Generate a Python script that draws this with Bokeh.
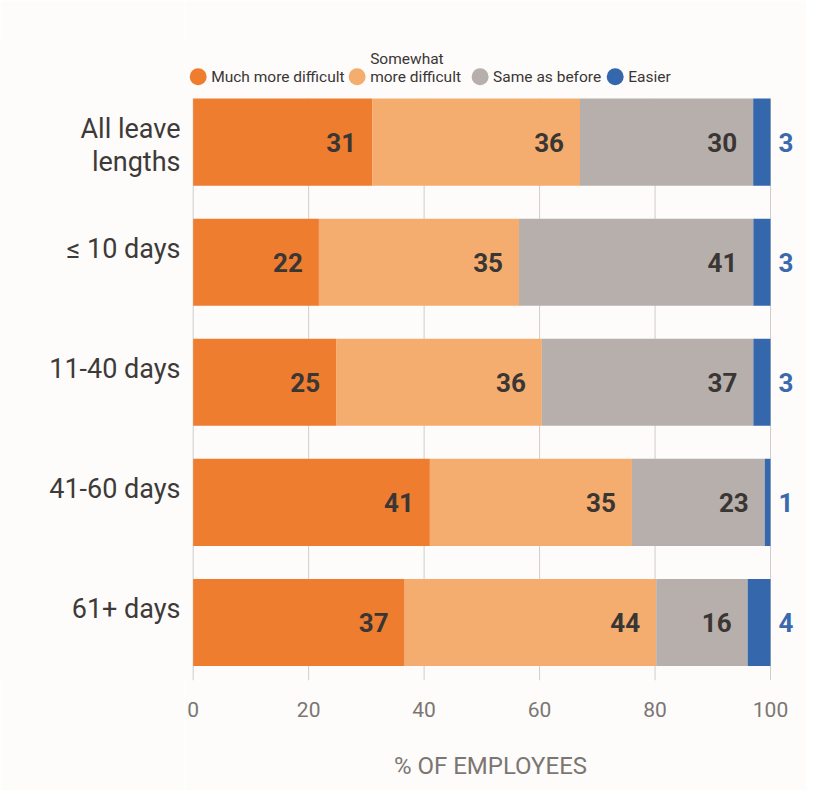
from bokeh.plotting import figure
from bokeh.layouts import row
from bokeh.models import Range1d, FixedTicker
from bokeh.core.properties import value
from bokeh.embed import file_html
from bokeh.resources import INLINE

# ---- data ----
categories = ["All leave\nlengths", "≤ 10 days", "11-40 days", "41-60 days", "61+ days"]
series_names = ["Much more difficult", "Somewhat\nmore difficult", "Same as before", "Easier"]
much_more_difficult = [31, 22, 25, 41, 37]
somewhat_more_difficult = [36, 35, 36, 35, 44]
same_as_before = [30, 41, 37, 23, 16]
easier = [3, 3, 3, 1, 4]
x_ticks = [0, 20, 40, 60, 80, 100]
x_tick_labels = ["0", "20", "40", "60", "80", "100"]
x_axis_title = "% OF EMPLOYEES"

# ---- style ----
colors = ["#EE7D30", "#F4AD6E", "#B7AFAB", "#3567AC"]
label_color = "#3A3634"
easier_label_color = "#3B69AE"
axis_text_color = "#7B7672"
bg = "#FDFCFB"
FONT = "Roboto"
BAR_H = 0.725
H = 790
TOP, BOTTOM = 40, 110

series = [much_more_difficult, somewhat_more_difficult, same_as_before, easier]
rows = list(range(len(categories)))
totals = [sum(s[i] for s in series) for i in rows]

y_range = Range1d(4.483, -0.846)

# ---- left panel: category labels ----
lp = figure(width=184, height=H, output_backend="svg", toolbar_location=None,
            x_range=Range1d(0, 1), y_range=y_range,
            x_axis_location=None, y_axis_location=None,
            min_border_left=0, min_border_right=0,
            min_border_top=TOP, min_border_bottom=BOTTOM)
lp.background_fill_color = bg
lp.border_fill_color = bg
lp.outline_line_color = None
lp.xgrid.visible = False
lp.ygrid.visible = False
lp.text(x=[1] * len(rows), y=[r - BAR_H / 2 for r in rows], text=categories,
        x_offset=-4, y_offset=14, text_align="right", text_baseline="top",
        text_font=value(FONT), text_font_size="27px", text_color="#3D3A38",
        text_line_height=1.05)

# ---- main panel ----
p = figure(width=622, height=H, output_backend="svg", toolbar_location=None,
           x_range=Range1d(-1.5, 104.5), y_range=y_range,
           y_axis_location=None, min_border_left=0, min_border_right=10,
           min_border_top=TOP, min_border_bottom=BOTTOM)
p.background_fill_color = bg
p.border_fill_color = bg
p.outline_line_color = None
p.xgrid.visible = False
p.ygrid.visible = False

# vertical grid lines (only across the bar area)
top_of_bars = rows[0] - BAR_H / 2
p.segment(x0=x_ticks, x1=x_ticks, y0=[top_of_bars] * len(x_ticks),
          y1=[y_range.start] * len(x_ticks), line_color="#D0CDCA", line_width=1)

# stacked (100%) bars
cum = [0.0] * len(rows)
for k, s in enumerate(series):
    lefts = cum[:]
    rights = [cum[i] + s[i] / totals[i] * 100 for i in rows]
    cum = rights
    p.hbar(y=rows, left=lefts, right=rights, height=BAR_H,
           fill_color=colors[k], line_color=None)
    txt = [str(v) for v in s]
    if k < 3:
        p.text(x=rights, y=rows, text=txt, x_offset=-16, y_offset=0,
               text_align="right", text_baseline="middle",
               text_font=value(FONT), text_font_style="bold",
               text_font_size="26px", text_color=label_color)
    else:
        p.text(x=rights, y=rows, text=txt, x_offset=8, y_offset=0,
               text_align="left", text_baseline="middle",
               text_font=value(FONT), text_font_style="bold",
               text_font_size="26px", text_color=easier_label_color)

# legend row
legend_x = [0.87, 28.4, 49.7, 73.1]
legend_y = -0.545
p.scatter(x=legend_x, y=[legend_y] * 4, size=17, marker="circle",
          fill_color=colors, line_color=None)
p.text(x=legend_x, y=[legend_y] * 4, text=series_names, x_offset=13, y_offset=9,
       text_align="left", text_baseline="bottom", text_font=value(FONT),
       text_font_size="15.5px", text_color="#3A3634", text_line_height=1.0)

# x axis
ax = p.xaxis[0]
ax.ticker = FixedTicker(ticks=x_ticks)
ax.major_label_overrides = dict(zip(x_ticks, x_tick_labels))
ax.axis_line_color = None
ax.major_tick_line_color = None
ax.minor_tick_line_color = None
ax.major_label_standoff = 15
ax.major_label_text_font = FONT
ax.major_label_text_font_size = "21px"
ax.major_label_text_color = axis_text_color
ax.axis_label = x_axis_title
ax.axis_label_standoff = 32
ax.axis_label_text_font = FONT
ax.axis_label_text_font_size = "24px"
ax.axis_label_text_font_style = "normal"
ax.axis_label_text_color = axis_text_color

layout = row(lp, p, spacing=0)
open("out.html", "w").write(file_html(layout, INLINE))
